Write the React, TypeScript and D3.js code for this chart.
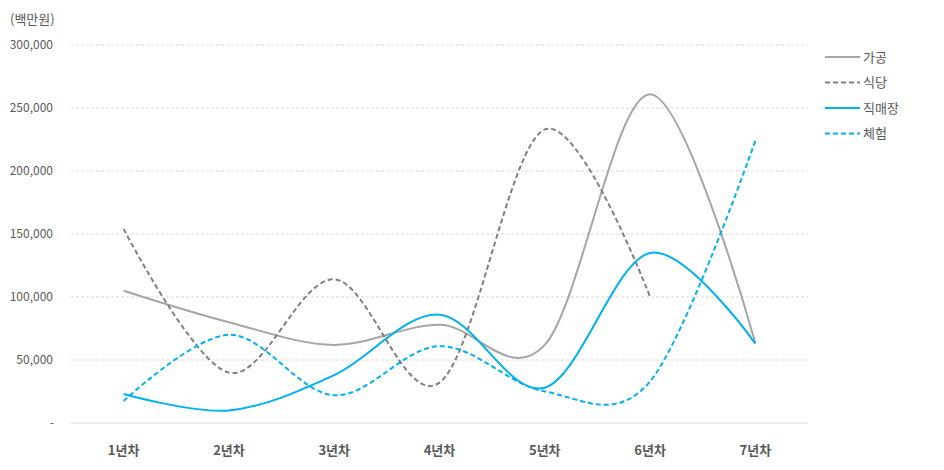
import React from "react";
import * as d3 from "d3";

const categories = ["1년차", "2년차", "3년차", "4년차", "5년차", "6년차", "7년차"];
const seriesNames = ["가공", "식당", "직매장", "체험"];
const gagong = [105000, 80000, 62000, 78000, 62000, 261000, 63500];
const sikdang: (number | null)[] = [154000, 40000, 114000, 32000, 233000, 100000, null];
const jikmaejang = [23000, 10000, 38000, 86000, 28000, 135000, 63000];
const chehum = [17500, 70000, 22000, 61000, 25000, 33000, 224000];
const yTicks = [0, 50000, 100000, 150000, 200000, 250000, 300000];

const W = 944, H = 470;
const FONT = "'Noto Sans CJK KR', 'Noto Sans', sans-serif";

export default function App() {
  const x = d3.scaleBand<string>().domain(categories).range([71, 808]);
  const y = d3.scaleLinear().domain([0, 300000]).range([423, 45]);
  const cx = (c: string) => (x(c) ?? 0) + x.bandwidth() / 2;

  const series = [
    { name: seriesNames[0], data: gagong as (number | null)[], color: "#A5A5A5", dash: undefined as string | undefined },
    { name: seriesNames[1], data: sikdang, color: "#7F7F7F", dash: "5,3" },
    { name: seriesNames[2], data: jikmaejang as (number | null)[], color: "#00B0F0", dash: undefined },
    { name: seriesNames[3], data: chehum as (number | null)[], color: "#00B0F0", dash: "5,3" },
  ];

  const line = d3
    .line<{ c: string; v: number | null }>()
    .defined((d) => d.v != null)
    .x((d) => cx(d.c))
    .y((d) => y(d.v as number))
    .curve(d3.curveCatmullRom.alpha(0));

  const fmt = (v: number) => (v === 0 ? "-" : d3.format(",")(v));

  return (
    <svg width={W} height={H} style={{ position: "absolute", left: 0, top: 0 }}>
      <rect width={W} height={H} fill="#fff" />
      <text x={10} y={24} fontFamily={FONT} fontSize={13} fill="#595959">(백만원)</text>
      {yTicks.map((t) => (
        <g key={t}>
          {t > 0 && (
            <line x1={71} x2={808} y1={y(t)} y2={y(t)} stroke="#D9D9D9" strokeWidth={1} strokeDasharray="3,2" />
          )}
          <text x={t === 0 ? 54 : 53} y={y(t) + 4} textAnchor="end" fontFamily={FONT} fontSize={12} fill="#595959">
            {fmt(t)}
          </text>
        </g>
      ))}
      <line x1={71} x2={808} y1={y(0)} y2={y(0)} stroke="#D9D9D9" strokeWidth={1} />
      {categories.map((c) => (
        <text key={c} x={cx(c)} y={455} textAnchor="middle" fontFamily={FONT} fontSize={13} fontWeight="bold" fill="#595959">
          {c}
        </text>
      ))}
      {series.map((s) => (
        <path
          key={s.name}
          d={line(categories.map((c, i) => ({ c, v: s.data[i] }))) ?? ""}
          fill="none"
          stroke={s.color}
          strokeWidth={2}
          strokeDasharray={s.dash}
        />
      ))}
      {series.map((s, i) => {
        const ly = 57 + i * 25.5;
        return (
          <g key={s.name}>
            <line x1={825} x2={860} y1={ly} y2={ly} stroke={s.color} strokeWidth={2} strokeDasharray={s.dash} />
            <text x={863} y={ly + 4.5} fontFamily={FONT} fontSize={13} fill="#595959">{s.name}</text>
          </g>
        );
      })}
    </svg>
  );
}
